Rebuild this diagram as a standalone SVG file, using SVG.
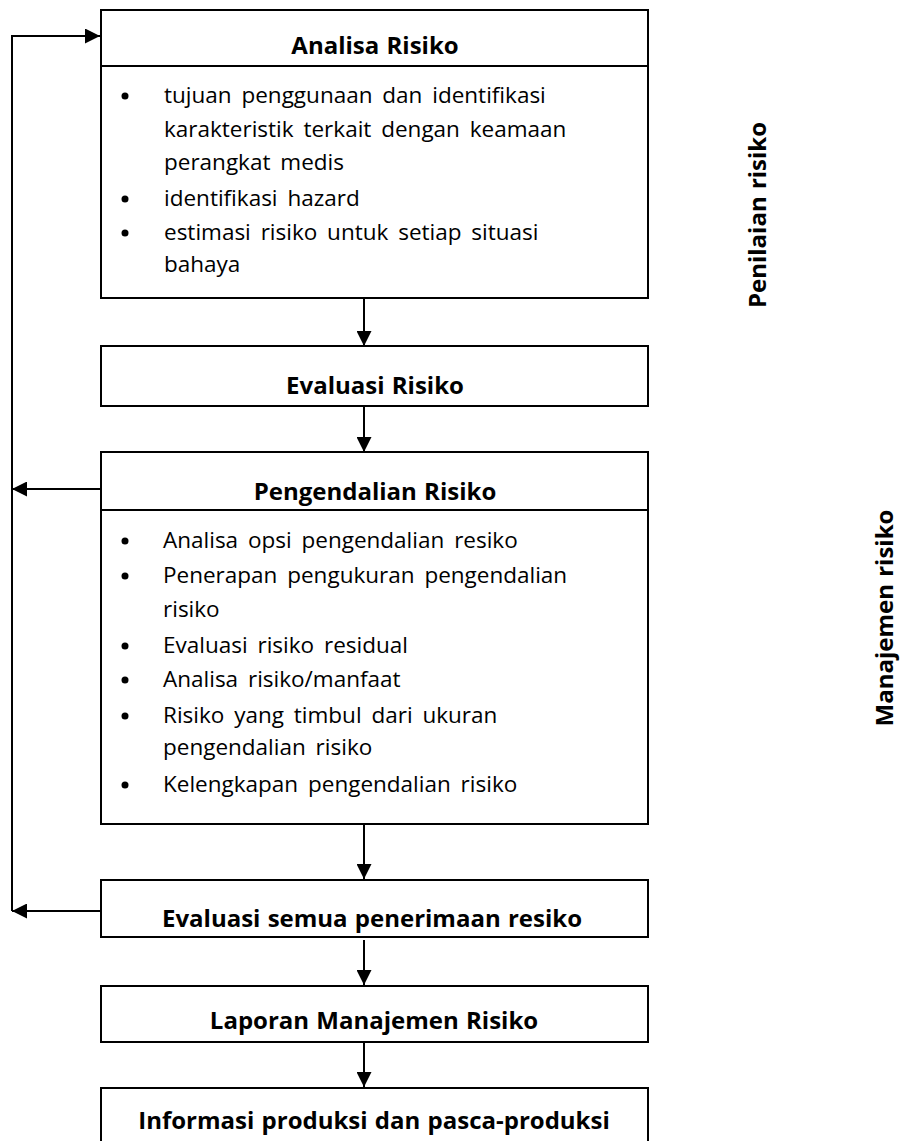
<svg xmlns="http://www.w3.org/2000/svg" width="902" height="1141" viewBox="0 0 902 1141">
<defs>
<marker id="ah" viewBox="0 0 10 10" refX="10" refY="5" markerWidth="7.5" markerHeight="7.5" markerUnits="strokeWidth" orient="auto">
<path d="M0,0 L10,5 L0,10 z" fill="#000"/>
</marker>
<style>
.box{fill:#fff;stroke:#000;stroke-width:2}
.div{stroke:#000;stroke-width:2}
.t{font-family:"Open Sans",Lato,sans-serif;font-size:22.5px;fill:#000;word-spacing:4px}
.b{font-weight:bold;text-anchor:middle;font-size:24px;word-spacing:1px}
.c{stroke:#000;stroke-width:2;fill:none}
</style>
</defs>
<rect width="902" height="1141" fill="#fff"/>
<g id="connectors">
<path class="c" d="M364,298 V346" marker-end="url(#ah)"/>
<path class="c" d="M364,406 V452" marker-end="url(#ah)"/>
<path class="c" d="M364,824 V879" marker-end="url(#ah)"/>
<path class="c" d="M364,940 V985" marker-end="url(#ah)"/>
<path class="c" d="M364,1043 V1087" marker-end="url(#ah)"/>
<path class="c" d="M101,489 H12"  marker-end="url(#ah)"/>
<path class="c" d="M101,911 H12"  marker-end="url(#ah)"/>
<path class="c" d="M12,911 V36 H100" marker-end="url(#ah)"/>
</g>
<g id="analisa">
<rect class="box" x="101" y="10" width="547" height="288"/>
<line class="div" x1="101" y1="66" x2="648" y2="66"/>
<text class="t b" x="375" y="54">Analisa Risiko</text>
<g class="t">
<circle cx="125" cy="96" r="3.5"/><text x="164" y="103">tujuan penggunaan dan identifikasi</text>
<text x="164" y="137">karakteristik terkait dengan keamaan</text>
<text x="164" y="170">perangkat medis</text>
<circle cx="125" cy="199" r="3.5"/><text x="164" y="206">identifikasi hazard</text>
<circle cx="125" cy="233" r="3.5"/><text x="164" y="240">estimasi risiko untuk setiap situasi</text>
<text x="164" y="272">bahaya</text>
</g>
</g>
<g id="evaluasi">
<rect class="box" x="101" y="346" width="547" height="60"/>
<text class="t b" x="375" y="394">Evaluasi Risiko</text>
</g>
<g id="pengendalian">
<rect class="box" x="101" y="452" width="547" height="372"/>
<line class="div" x1="101" y1="510" x2="648" y2="510"/>
<text class="t b" x="375" y="500">Pengendalian Risiko</text>
<g class="t">
<circle cx="125" cy="541" r="3.5"/><text x="163" y="548">Analisa opsi pengendalian resiko</text>
<circle cx="125" cy="576" r="3.5"/><text x="163" y="583">Penerapan pengukuran pengendalian</text>
<text x="163" y="617">risiko</text>
<circle cx="125" cy="646" r="3.5"/><text x="163" y="653">Evaluasi risiko residual</text>
<circle cx="125" cy="680" r="3.5"/><text x="163" y="687">Analisa risiko/manfaat</text>
<circle cx="125" cy="716" r="3.5"/><text x="163" y="723">Risiko yang timbul dari ukuran</text>
<text x="163" y="755">pengendalian risiko</text>
<circle cx="125" cy="785" r="3.5"/><text x="163" y="792">Kelengkapan pengendalian risiko</text>
</g>
</g>
<g id="semua">
<rect class="box" x="101" y="880" width="547" height="57"/>
<text class="t b" x="372" y="927">Evaluasi semua penerimaan resiko</text>
</g>
<g id="laporan">
<rect class="box" x="101" y="986" width="547" height="56"/>
<text class="t b" x="374" y="1029">Laporan Manajemen Risiko</text>
</g>
<g id="informasi">
<rect class="box" x="101" y="1088" width="547" height="60"/>
<text class="t b" x="374" y="1129">Informasi produksi dan pasca-produksi</text>
</g>
<g id="labels">
<text class="t b" transform="translate(766,215) rotate(-90)">Penilaian risiko</text>
<text class="t b" transform="translate(893,618) rotate(-90)">Manajemen risiko</text>
</g>
</svg>
